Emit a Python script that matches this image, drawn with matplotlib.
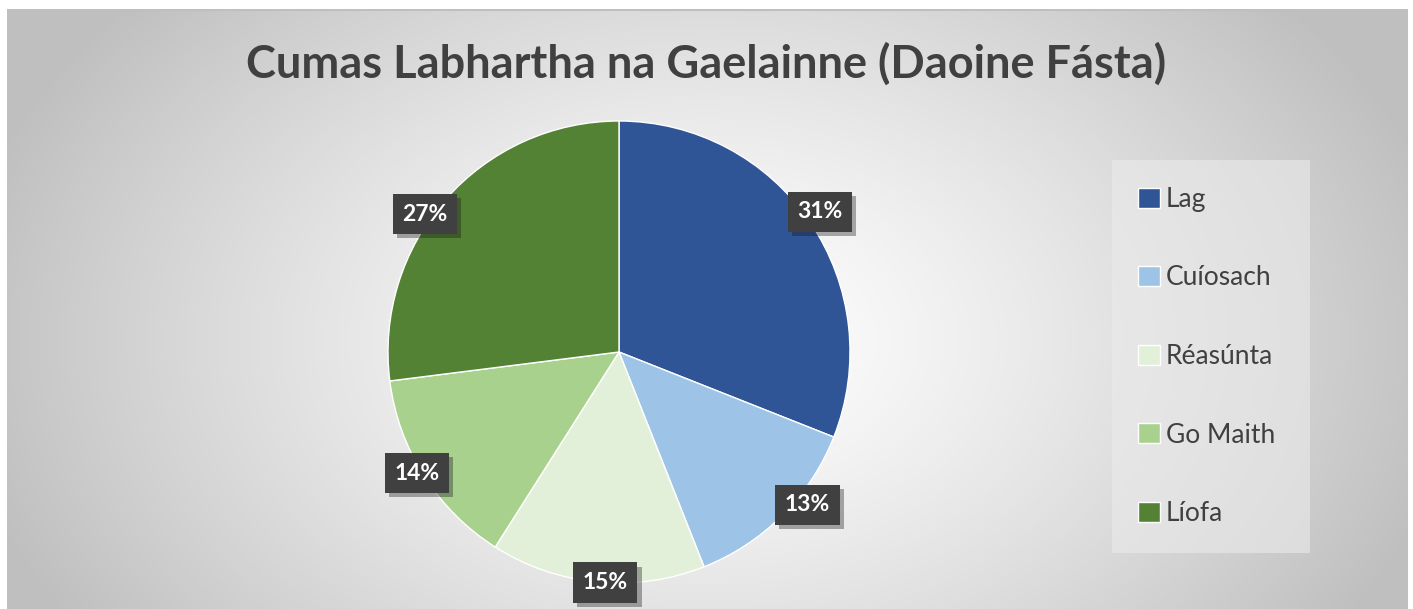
import matplotlib
matplotlib.use("Agg")
import matplotlib.pyplot as plt
import matplotlib.patheffects as pe
import numpy as np

# data
categories = ["Lag", "Cuíosach", "Réasúnta", "Go Maith", "Líofa"]
shares = [31, 13, 15, 14, 27]
colors = ["#2F5597", "#9DC3E6", "#E2F0D9", "#A9D18E", "#548235"]
title = "Cumas Labhartha na Gaelainne (Daoine Fásta)"

# label placement tweaks (Excel "best fit" look)
nudge_deg = [0.7, 6, 2, -1.5, 6]
dist = [1.06, 1.05, 1.0, 1.02, 1.03]

plt.rcParams["font.family"] = ["Lato", "DejaVu Sans"]

W, H = 1413, 609
fig = plt.figure(figsize=(W / 100, H / 100), dpi=100)
fig.patch.set_facecolor("white")

# radial gradient background of the chart area
bg = fig.add_axes([7 / W, 0, 1401 / W, 600 / H])
yy, xx = np.mgrid[0:600, 0:1401]
d = np.sqrt(((xx - 700) / 760) ** 2 + ((yy - 330) / 520) ** 2)
shade = 1.0 - 0.25 * np.clip(d, 0, 1) ** 1.3
bg.imshow(np.dstack([shade] * 3), aspect="auto", interpolation="bilinear")
bg.axhline(0, color="#bfbfbf", lw=1.5)
bg.set_axis_off()

# pie
cx, cy, r = 619, H - 352, 231
ax = fig.add_axes([(cx - r) / W, (cy - r) / H, 2 * r / W, 2 * r / H])
wedges, texts, autotexts = ax.pie(
    shares, colors=colors, startangle=90, counterclock=False,
    autopct="%d%%", pctdistance=1.04,
    wedgeprops=dict(edgecolor="white", linewidth=1),
    textprops=dict(color="white", fontsize=16.5, fontweight="bold"),
)
for w, t, nd, k in zip(wedges, autotexts, nudge_deg, dist):
    a = np.deg2rad(0.5 * (w.theta1 + w.theta2) + nd)
    t.set_position((k * np.cos(a), k * np.sin(a)))
    t.set_bbox(dict(boxstyle="square,pad=0.42", facecolor="#404040", edgecolor="none"))
    t.get_bbox_patch().set_path_effects([pe.SimplePatchShadow(offset=(3, -3), alpha=0.35), pe.Normal()])
ax.set_xlim(-1, 1)
ax.set_ylim(-1, 1)
ax.set_axis_off()

fig.text(0.5 * (250 + 1163) / W, 1 - 64 / H, title, ha="center", va="center",
         fontsize=32.5, fontweight="bold", color="#404040")

leg = fig.legend(wedges, categories, loc="center left",
                 bbox_to_anchor=(1112 / W, 1 - 553 / H, 198 / W, 393 / H),
                 mode="expand", frameon=True, fontsize=19, labelcolor="#404040",
                 handlelength=0.8, handleheight=0.8, handletextpad=0.25,
                 labelspacing=2.03, borderpad=1.0, borderaxespad=0)
leg.get_frame().set_facecolor("#ebebeb")
leg.get_frame().set_alpha(0.6)
leg.get_frame().set_edgecolor("none")
leg.get_frame().set_boxstyle("square", pad=0)

fig.savefig("out.png", dpi=100)
